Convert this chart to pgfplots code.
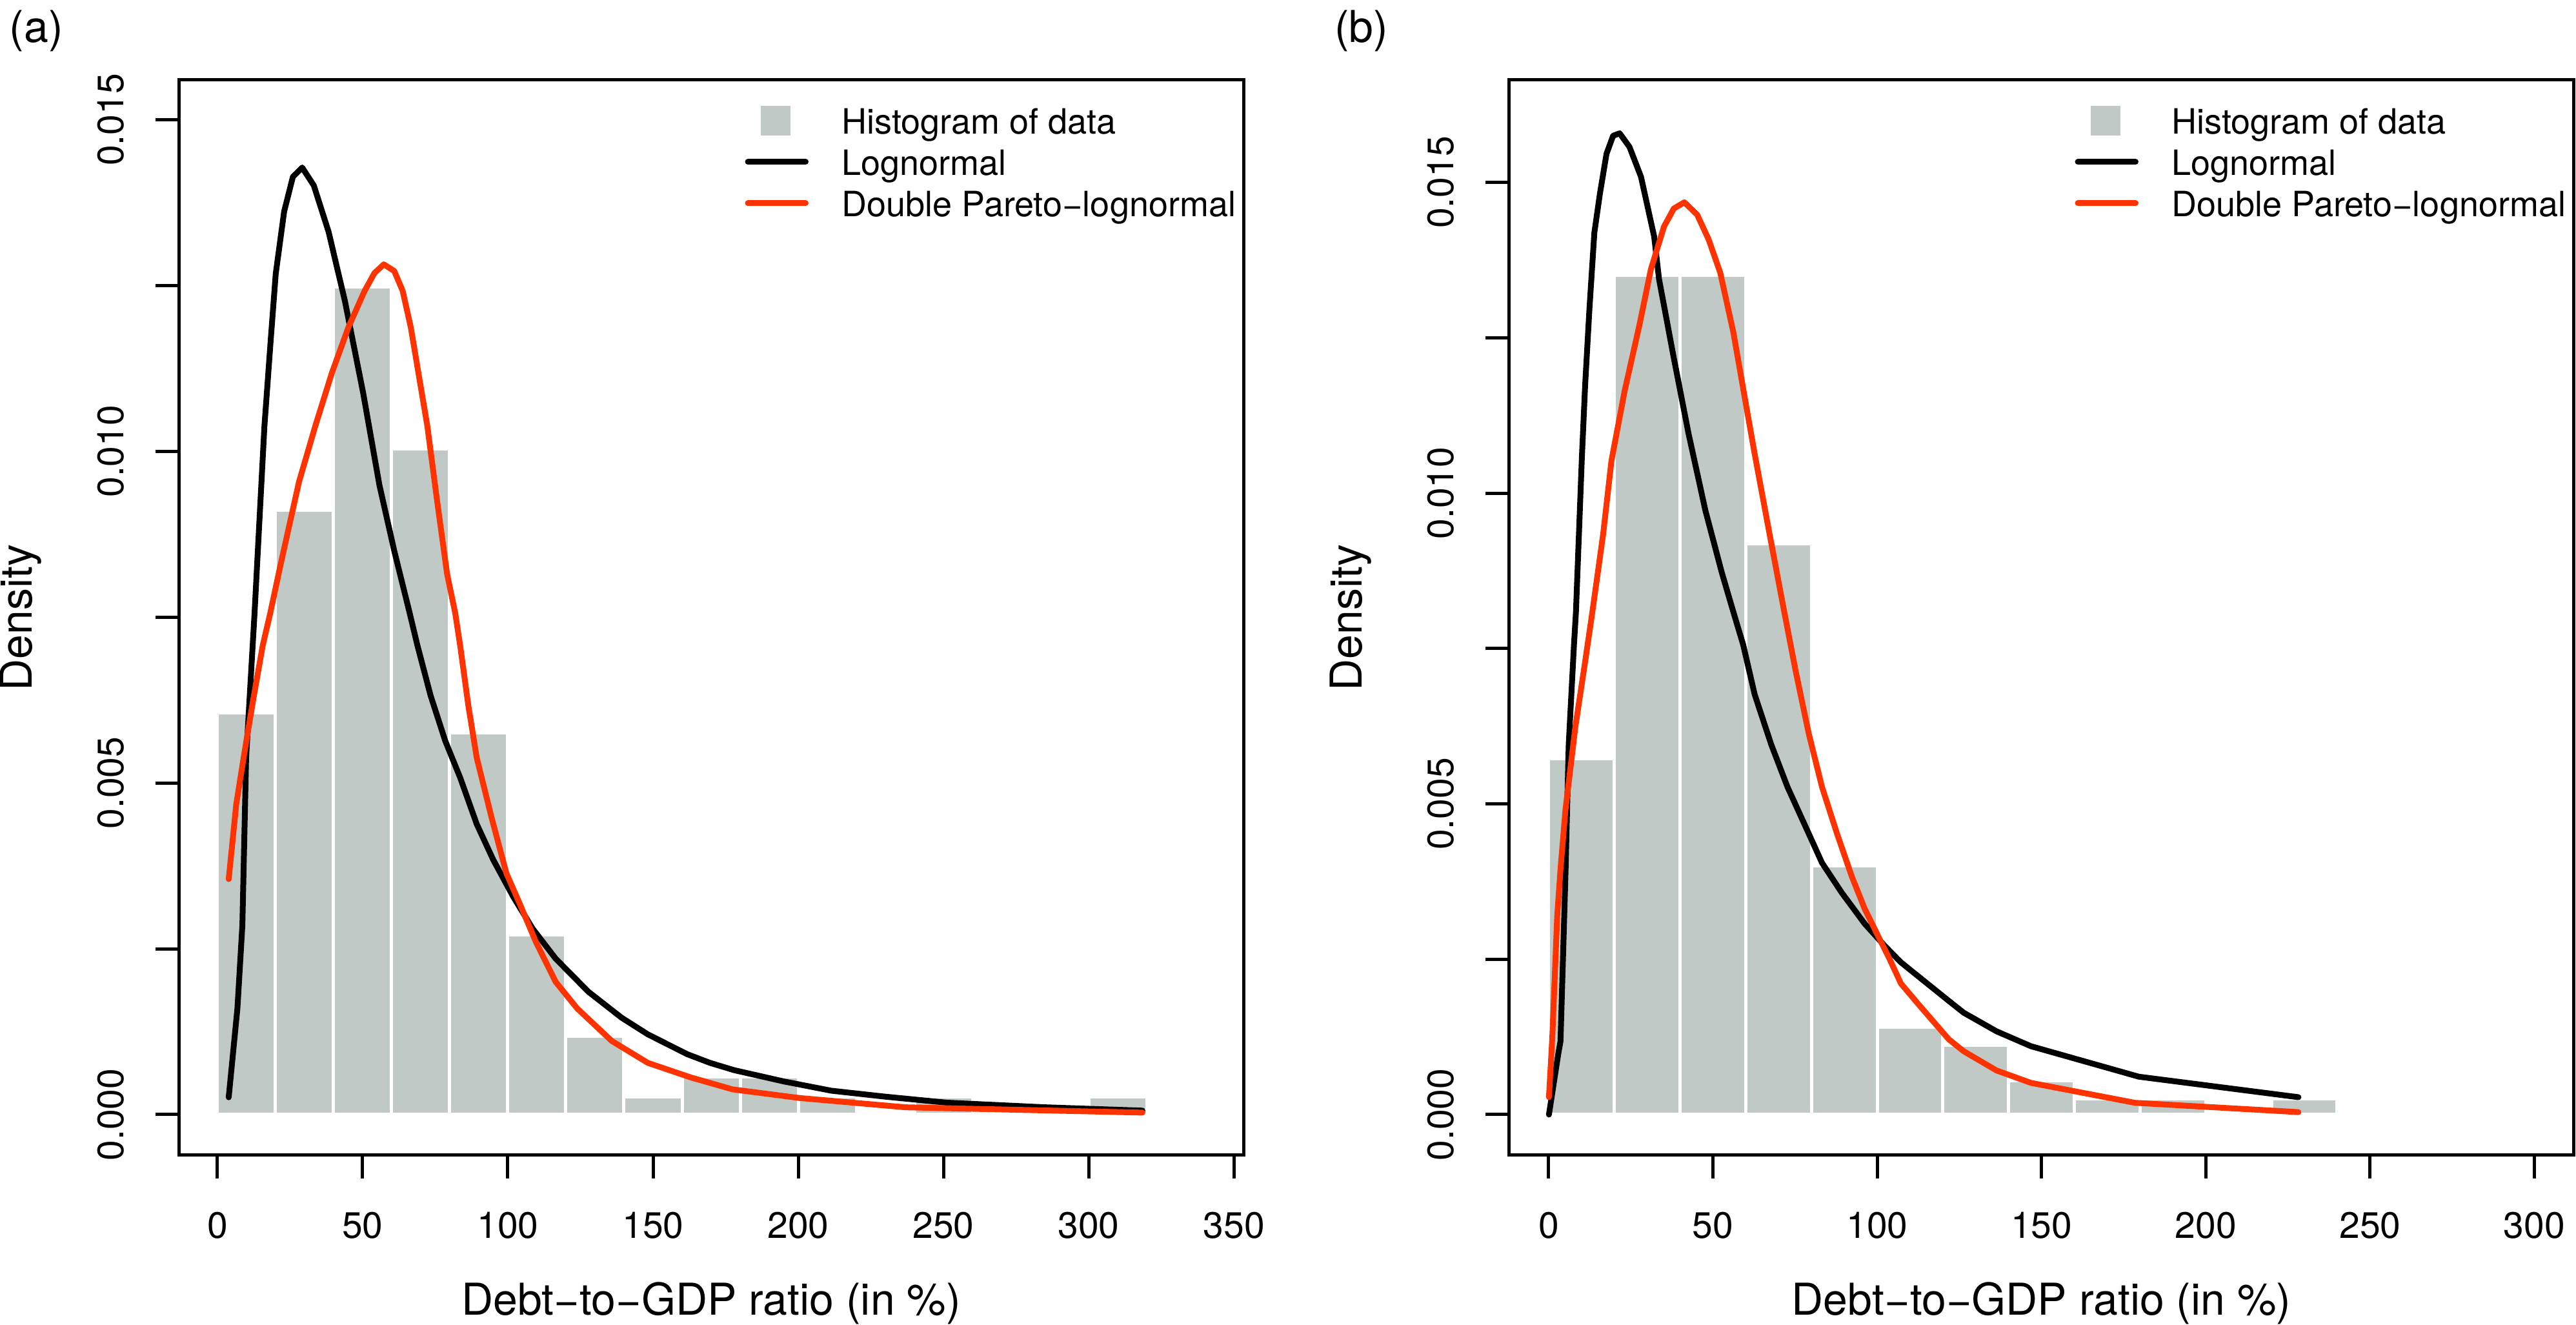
\documentclass[border=0pt]{standalone}
\usepackage{fontspec}
\setmainfont{TeX Gyre Heros}
\usepackage{pgfplots}
\pgfplotsset{compat=1.18}
\definecolor{barc}{RGB}{193,201,198}
\definecolor{dpln}{RGB}{255,51,0}
\newcommand\tickfont{\fontsize{5.7}{6.8}\selectfont}
\newcommand\labfont{\fontsize{6.8}{8}\selectfont}
\newcommand\legfont{\fontsize{5.4}{6.4}\selectfont}
\pgfplotsset{
  myaxis/.style={
    scale only axis, anchor=south west, width=165pt, height=166.6pt,
    tick align=outside, xtick pos=left, ytick pos=left,
    major tick length=3.6pt,
    tick style={black,line width=0.5pt},
    axis line style={line width=0.5pt},
    /pgf/number format/assume math mode=true,
    scaled y ticks=false, scaled x ticks=false,
    xticklabel style={font=\tickfont, inner sep=0pt, anchor=north, yshift=-5pt},
    yticklabel style={font=\tickfont, inner sep=0pt, xshift=-4.7pt, rotate=90, anchor=south},
    ytick={0,0.0025,0.005,0.0075,0.01,0.0125,0.015},
    yticklabels={0.000,,0.005,,0.010,,0.015},
    legend cell align=left,
    legend style={anchor=north west, at={(axis description cs:0.5303,0.9808)},
      draw=none, fill=none, inner sep=0pt, outer sep=0pt, font=\legfont,
      row sep=0.2pt, column sep=4.9pt,
      nodes={inner sep=0pt, text height=5.2pt, text depth=1.0pt}},
  },
  hist/.style={ybar interval, fill=barc, draw=white, line width=0.5pt},
  ln/.style={black, line width=0.9pt, line join=round, line cap=round},
  dp/.style={dpln, line width=0.9pt, line join=round, line cap=round},
}
\begin{document}
\begin{tikzpicture}
\useasboundingbox (0,0) rectangle (399.2pt,205.3pt);
% ---------------- panel (a)
\begin{axis}[myaxis, at={(27.7pt,26.3pt)},
  xmin=-13.3, xmax=353.3, ymin=-0.000613, ymax=0.0156,
  xtick={0,50,100,150,200,250,300,350},
  xticklabels={0,50,100,150,200,250,300,350},
  legend image code/.code={\draw[#1] (0.45pt,0pt) -- (9.4pt,0pt);}]
\addplot[hist, legend image code/.code={\path (0pt,0pt) -- (9.85pt,0pt); \fill[barc] (2.65pt,-2.05pt) rectangle (6.75pt,2.05pt);}] coordinates {
 (0,0.00606) (20,0.00911) (40,0.01248) (60,0.01004) (80,0.00576)
 (100,0.00271) (120,0.00118) (140,0.00027) (160,0.00057) (180,0.00057)
 (200,0.00027) (220,0) (240,0.00027) (260,0) (280,0) (300,0.00027) (320,0)};
\addlegendentry{Histogram of data}
\addplot[ln] coordinates {
 (3.9,0.00026) (6.9,0.00160) (8.6,0.00285) (9.9,0.00538) (12.8,0.00756)
 (14.4,0.00889) (16.2,0.01038) (18.4,0.01170) (20.1,0.01268) (23.0,0.01362)
 (26.0,0.01414) (29.2,0.01428) (33.2,0.01401) (38.3,0.01331) (43.9,0.01227)
 (50.2,0.01088) (55.8,0.00949) (60.9,0.00850) (66.0,0.00760) (68.9,0.00707)
 (73.4,0.00632) (78.5,0.00563) (83.6,0.00508) (89.3,0.00438) (95.0,0.00384)
 (101.8,0.00329) (108.6,0.00280) (116.5,0.00235) (127.8,0.00185) (139.2,0.00146)
 (148.2,0.00121) (161.8,0.00091) (169.6,0.00078) (177.9,0.00067) (195.0,0.00050)
 (211.4,0.00036) (230.0,0.00027) (251.1,0.00018) (285.0,0.00011) (318.5,0.00006)};
\addlegendentry{Lognormal}
\addplot[dp] coordinates {
 (3.9,0.00355) (6.5,0.00468) (9.4,0.00548) (12.2,0.00622) (15.6,0.00707)
 (18.2,0.00756) (21.8,0.00830) (28.1,0.00954) (33.7,0.01038) (39.4,0.01118)
 (45.1,0.01187) (50.7,0.01242) (54.1,0.01269) (57.3,0.01282) (60.9,0.01272)
 (63.8,0.01242) (66.6,0.01187) (70.0,0.01098) (72.3,0.01038) (75.7,0.00924)
 (79.1,0.00815) (81.9,0.00756) (83.6,0.00707) (86.4,0.00617) (89.3,0.00538)
 (94.4,0.00448) (99.5,0.00364) (104.0,0.00319) (109.7,0.00260) (116.5,0.00200)
 (123.9,0.00160) (135.8,0.00111) (148.2,0.00078) (163.0,0.00056) (177.4,0.00038)
 (200.4,0.00025) (236.9,0.00011) (318.5,0.00003)};
\addlegendentry{Double Pareto−lognormal}
\end{axis}
% ---------------- panel (b)
\begin{axis}[myaxis, at={(233.8pt,26.3pt)},
  xmin=-12.17, xmax=311.9, ymin=-0.000654, ymax=0.016648,
  xtick={0,50,100,150,200,250,300},
  xticklabels={0,50,100,150,200,250,300},
  legend image code/.code={\draw[#1] (0.45pt,0pt) -- (9.4pt,0pt);}]
\addplot[hist, legend image code/.code={\path (0pt,0pt) -- (9.85pt,0pt); \fill[barc] (2.65pt,-2.05pt) rectangle (6.75pt,2.05pt);}] coordinates {
 (0,0.00573) (20,0.01351) (40,0.01351) (60,0.00919) (80,0.00400)
 (100,0.00141) (120,0.00112) (140,0.00054) (160,0.00025) (180,0.00025)
 (200,0) (220,0.00025) (240,0)};
\addlegendentry{Histogram of data}
\addplot[ln] coordinates {
 (0.08,0.00000) (2.9,0.00097) (3.6,0.00118) (5.1,0.00384) (6.1,0.00596)
 (7.7,0.00756) (8.3,0.00809) (10.1,0.01057) (11.1,0.01174) (12.4,0.01296)
 (13.9,0.01419) (15.6,0.01482) (17.6,0.01546) (19.6,0.01575) (21.6,0.01579)
 (24.6,0.01557) (28.1,0.01509) (32.1,0.01413) (33.6,0.01344) (38.1,0.01217)
 (42.6,0.01095) (47.7,0.00972) (52.7,0.00872) (56.2,0.00809) (59.2,0.00756)
 (62.7,0.00676) (67.7,0.00596) (72.7,0.00527) (77.7,0.00469) (83.2,0.00405)
 (89.2,0.00357) (96.2,0.00307) (102.2,0.00272) (107.2,0.00245) (122.0,0.00182)
 (126.3,0.00164) (136.3,0.00134) (146.8,0.00110) (179.6,0.00061) (228.2,0.00028)};
\addlegendentry{Lognormal}
\addplot[dp] coordinates {
 (0.08,0.00028) (1.1,0.00124) (2.6,0.00320) (3.6,0.00395) (5.1,0.00490)
 (8.1,0.00623) (11.1,0.00729) (13.3,0.00809) (16.6,0.00935) (19.1,0.01052)
 (23.1,0.01164) (27.6,0.01270) (31.1,0.01360) (35.1,0.01429) (38.1,0.01458)
 (41.3,0.01468) (45.2,0.01448) (48.7,0.01408) (52.2,0.01355) (56.2,0.01259)
 (59.7,0.01153) (62.7,0.01063) (67.2,0.00935) (71.7,0.00809) (75.2,0.00713)
 (79.2,0.00612) (83.2,0.00527) (87.7,0.00453) (92.2,0.00384) (96.2,0.00331)
 (100.2,0.00288) (103.7,0.00251) (107.2,0.00211) (112.3,0.00179) (121.8,0.00121)
 (126.3,0.00102) (136.3,0.00071) (146.8,0.00051) (178.4,0.00019) (228.2,0.00004)};
\addlegendentry{Double Pareto−lognormal}
\end{axis}
% ---------------- labels
\node[font=\labfont, anchor=base] at (110.2pt,1.55pt) {Debt−to−GDP ratio (in \%)};
\node[font=\labfont, anchor=base] at (316.35pt,1.55pt) {Debt−to−GDP ratio (in \%)};
\node[font=\labfont, anchor=base, rotate=90] at (4.9pt,109.6pt) {Density};
\node[font=\labfont, anchor=base, rotate=90] at (211.0pt,109.6pt) {Density};
\node[font=\labfont, anchor=base west, inner sep=0pt] at (1.3pt,198.7pt) {(a)};
\node[font=\labfont, anchor=base west, inner sep=0pt] at (206.6pt,198.7pt) {(b)};
\end{tikzpicture}
\end{document}
